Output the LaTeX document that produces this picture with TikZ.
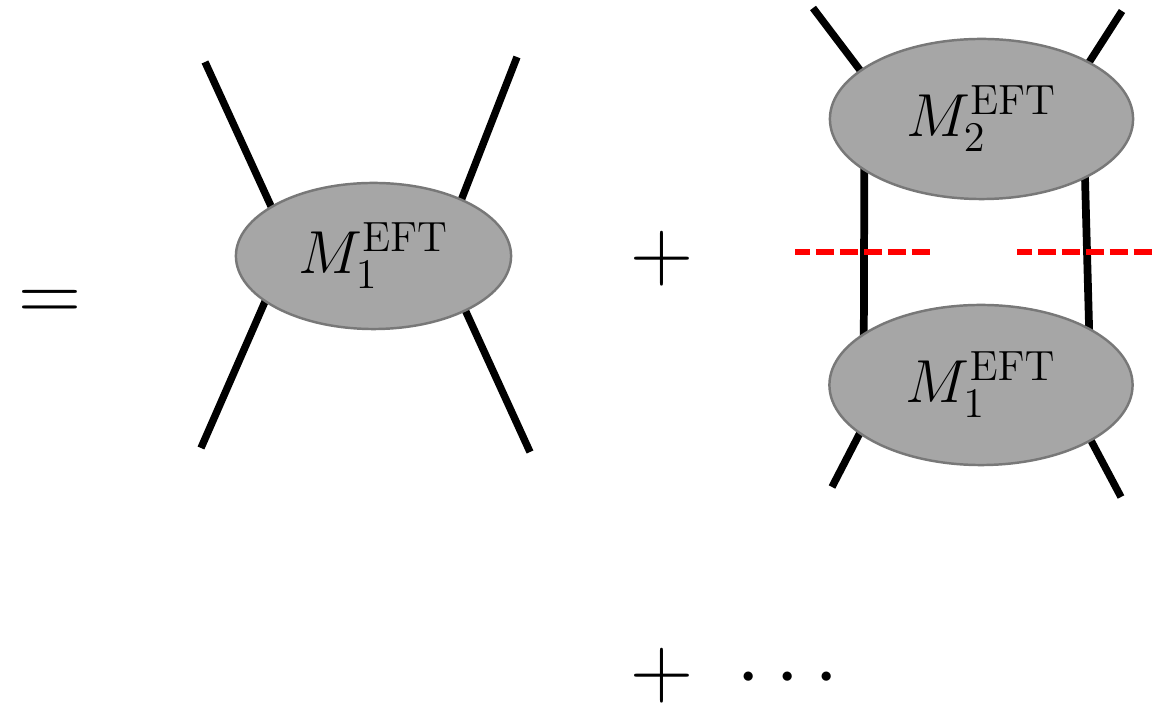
\documentclass[tikz,border=0pt]{standalone}
\usetikzlibrary{shapes.geometric}
\definecolor{blobgray}{RGB}{166,166,166}
\definecolor{rimgray}{RGB}{120,120,120}
\definecolor{cutred}{RGB}{255,0,0}
\pgfdeclarelayer{bg}
\pgfsetlayers{bg,main}

\begin{document}
\begin{tikzpicture}[
    x=0.01cm, y=-0.01cm,
    blob/.style={ellipse, fill=blobgray, draw=rimgray, line width=0.7pt,
        inner sep=0pt},
    smallblob/.style={blob, minimum width=2.75cm, minimum height=1.46cm,
        font=\fontsize{16.7}{20}\selectfont},
    bigblob/.style={blob, minimum width=3.03cm, minimum height=1.6cm,
        font=\fontsize{18.7}{22}\selectfont},
    leg/.style={line width=2.1pt, shorten >=-5pt},
    rung/.style={line width=2.2pt, shorten <=-5pt, shorten >=-5pt},
    cut/.style={cutred, line width=1.6pt, dash pattern=on 5.1pt off 1.7pt,
        dash phase=0.85pt},
    op/.style={anchor=base, inner sep=0pt, font=\fontsize{23.5}{28}\selectfont}
]

\useasboundingbox (0,0) rectangle (1169,713);

% ============================================================
% Operators
% ============================================================
\node[op] (eq) at (50,322) {$=$};
\node[op] (plusA) at (662,281) {$+$};
\node[op] (plusB) at (662,698) {$+$};
\node[op] (dots) at (788,699) {$\cdots$};

% ============================================================
% Tree-level blob
% ============================================================
\node[smallblob] (ampA) at (373.5,256) {$M_1^{\mathrm{EFT}}$};

\begin{pgfonlayer}{bg}
    \coordinate (inA) at (205,62);
    \coordinate (inB) at (517,57);
    \coordinate (outA) at (201,448);
    \coordinate (outB) at (530,452);
    \draw[leg] (inA) -- (ampA.154);
    \draw[leg] (inB) -- (ampA.33);
    \draw[leg] (outA) -- (ampA.203);
    \draw[leg] (outB) -- (ampA.329);
\end{pgfonlayer}

% ============================================================
% One-loop: two blobs glued by a cut
% ============================================================
\node[bigblob] (ampTop) at (981.5,119) {$M_2^{\mathrm{EFT}}$};
\node[bigblob] (ampBot) at (981,385) {$M_1^{\mathrm{EFT}}$};

\begin{pgfonlayer}{bg}
    \coordinate (topA) at (813,8);
    \coordinate (topB) at (1122,11);
    \coordinate (botA) at (832,487);
    \coordinate (botB) at (1121,497);
    \draw[leg] (topA) -- (ampTop.158);
    \draw[leg] (topB) -- (ampTop.28);
    \draw[leg] (botA) -- (ampBot.202);
    \draw[leg] (botB) -- (ampBot.333);

    % internal lines
    \draw[rung] (ampTop.204) -- (ampBot.156);
    \draw[rung] (ampTop.330) -- (ampBot.28);
\end{pgfonlayer}

% Cut
\coordinate (cutA) at (795,252);
\coordinate (cutB) at (930,252);
\coordinate (cutC) at (1017,252);
\coordinate (cutD) at (1152,252);
\draw[cut] (cutA) -- (cutB);
\draw[cut] (cutC) -- (cutD);

\end{tikzpicture}
\end{document}
